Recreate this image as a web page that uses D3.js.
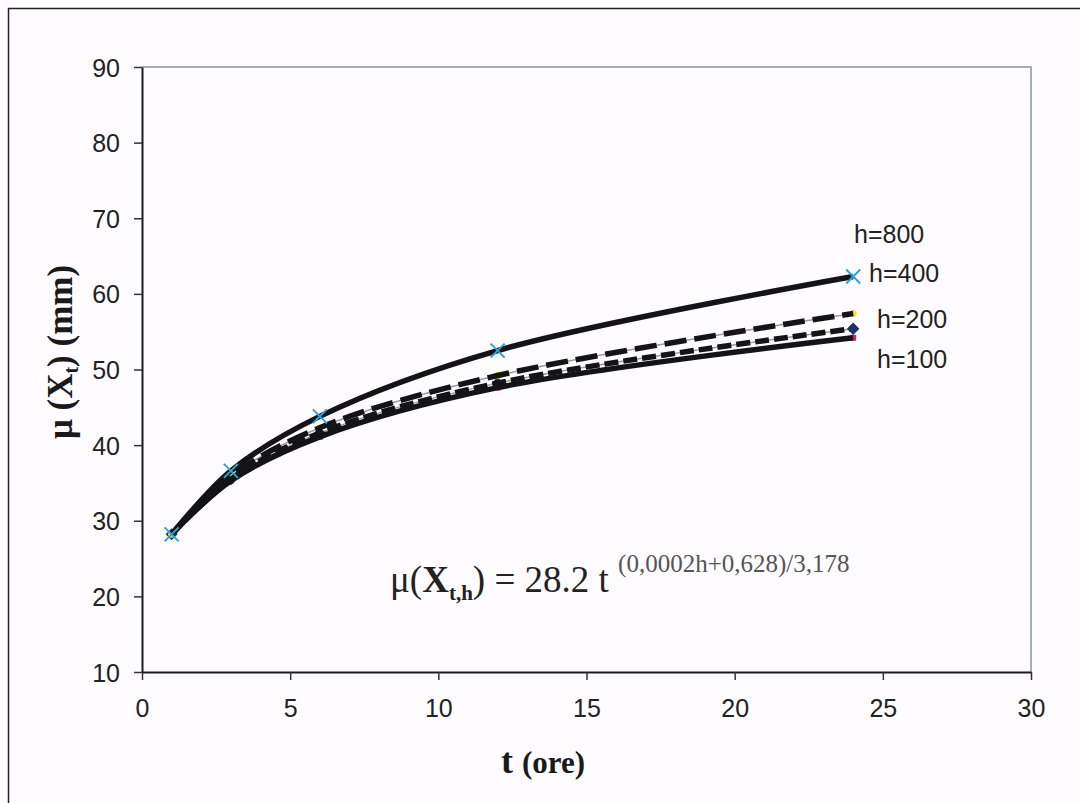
<!DOCTYPE html>
<html>
<head>
<meta charset="utf-8">
<script src="https://cdn.jsdelivr.net/npm/d3@7"></script>
<style>
  body { margin: 0; background: #fefcfe; }
  svg { display: block; }
</style>
</head>
<body>
<div id="chart"></div>
<script>
// data
const times = [1, 3, 6, 12, 24];
const mu800 = [28.2, 36.6, 43.8, 52.5, 62.3];
const mu400 = [28.2, 35.9, 42.3, 49.2, 57.4];
const mu200 = [28.2, 35.5, 41.6, 48.2, 55.4];
const mu100 = [28.2, 35.3, 41.1, 47.6, 54.2];
const seriesNames = ['h=800', 'h=400', 'h=200', 'h=100'];
const xTicks = [0, 5, 10, 15, 20, 25, 30];
const yTicks = [10, 20, 30, 40, 50, 60, 70, 80, 90];

const series = [
  {name: seriesNames[3], values: mu100, dash: null, marker: 'square', color: '#c02a7a'},
  {name: seriesNames[2], values: mu200, dash: '14,5', marker: 'diamond', color: '#1d2f6e'},
  {name: seriesNames[1], values: mu400, dash: '22,8', marker: 'circle', color: '#f2e12a'},
  {name: seriesNames[0], values: mu800, dash: null, marker: 'cross', color: '#2aa6d6'}
];

const width = 1080, height = 803;
const margin = {t: 67, r: 49, b: 131, l: 142};

const svg = d3.select('#chart').append('svg')
  .attr('width', width)
  .attr('height', height);

// outer frame (right and bottom run off the picture)
svg.append('rect')
  .attr('x', 8.5).attr('y', 8.5)
  .attr('width', 1100).attr('height', 900)
  .attr('fill', 'none')
  .attr('stroke', '#222')
  .attr('stroke-width', 1.5);

const x = d3.scaleLinear().domain([0, 30]).range([margin.l, width - margin.r]);
const y = d3.scaleLinear().domain([10, 90]).range([height - margin.b, margin.t]);

// plot border top/right
svg.append('path')
  .attr('d', `M${x(0)},${y(90)}H${x(30)}V${y(10)}`)
  .attr('fill', 'none')
  .attr('stroke', '#8a90a4')
  .attr('stroke-width', 1.5);

// axes
const xAxis = svg.append('g')
  .attr('transform', `translate(0,${y(10)})`)
  .call(d3.axisBottom(x).tickValues(xTicks).tickSize(8).tickSizeOuter(0).tickPadding(19));
const yAxis = svg.append('g')
  .attr('transform', `translate(${x(0)},0)`)
  .call(d3.axisLeft(y).tickValues(yTicks).tickSize(8).tickSizeOuter(0).tickPadding(14));

[xAxis, yAxis].forEach(ax => {
  ax.select('.domain').attr('stroke', '#1a1a22').attr('stroke-width', 2);
  ax.selectAll('.tick line').attr('stroke', '#333').attr('stroke-width', 1.5);
  ax.selectAll('.tick text')
    .attr('fill', '#222')
    .style('font-family', '"Liberation Sans", Arial, sans-serif')
    .style('font-size', '25px');
});
yAxis.selectAll('.tick text').attr('dy', '0.36em');

// lines
const line = d3.line()
  .x((d, i) => x(times[i]))
  .y(d => y(d))
  .curve(d3.curveCatmullRom.alpha(0.5));

const plot = svg.append('g');

// thin grey series lines under the trend strokes
plot.selectAll('.thin')
  .data(series)
  .enter().append('path')
  .attr('d', d => line(d.values))
  .attr('fill', 'none')
  .attr('stroke', '#9a9aa0')
  .attr('stroke-width', 1.5);

// markers hidden mostly under the heavy strokes
const under = series.filter(s => s.marker !== 'cross');
under.forEach(s => {
  const g = plot.append('g');
  s.values.forEach((v, i) => {
    const cx = x(times[i]), cy = y(v);
    if (s.marker === 'circle') {
      g.append('circle').attr('cx', cx).attr('cy', cy).attr('r', 3.5).attr('fill', s.color);
    } else if (s.marker === 'diamond') {
      g.append('path').attr('d', `M${cx},${cy - 6}L${cx + 6},${cy}L${cx},${cy + 6}L${cx - 6},${cy}Z`).attr('fill', s.color);
    } else {
      g.append('rect').attr('x', cx - 3).attr('y', cy - 3).attr('width', 6).attr('height', 6).attr('fill', s.color);
    }
  });
});

plot.selectAll('.heavy')
  .data(series)
  .enter().append('path')
  .attr('d', d => line(d.values))
  .attr('fill', 'none')
  .attr('stroke', '#141418')
  .attr('stroke-width', 5.5)
  .attr('stroke-dasharray', d => d.dash);

// diamond end marker and cyan crosses on top
const s200 = series[1];
plot.append('path')
  .attr('d', () => {
    const cx = x(times[4]), cy = y(s200.values[4]);
    return `M${cx},${cy - 6}L${cx + 6},${cy}L${cx},${cy + 6}L${cx - 6},${cy}Z`;
  })
  .attr('fill', s200.color);

const s800 = series[3];
plot.selectAll('.cross')
  .data(s800.values)
  .enter().append('path')
  .attr('d', (d, i) => {
    const cx = x(times[i]), cy = y(d), r = 7;
    return `M${cx - r},${cy - r}L${cx + r},${cy + r}M${cx - r},${cy + r}L${cx + r},${cy - r}`;
  })
  .attr('stroke', s800.color)
  .attr('stroke-width', 2);

// series labels
const labelPos = [
  {name: 'h=800', x: 854, y: 243},
  {name: 'h=400', x: 869, y: 282},
  {name: 'h=200', x: 877, y: 328},
  {name: 'h=100', x: 877, y: 368}
];
svg.selectAll('.lbl')
  .data(labelPos)
  .enter().append('text')
  .attr('x', d => d.x)
  .attr('y', d => d.y)
  .attr('fill', '#222')
  .style('font-family', '"Liberation Sans", Arial, sans-serif')
  .style('font-size', '25px')
  .text(d => d.name);

// formula
const serif = '"Liberation Serif", "Times New Roman", serif';
const f = svg.append('text')
  .attr('x', 390).attr('y', 592)
  .attr('fill', '#222')
  .style('font-family', serif)
  .style('font-size', '37px');
f.append('tspan').text('μ(');
f.append('tspan').attr('font-weight', 'bold').text('X');
f.append('tspan').attr('font-weight', 'bold').attr('font-size', '21px').attr('dy', 8).text('t,h');
f.append('tspan').attr('dy', -8).text(') = 28.2 t ');
f.append('tspan').attr('font-size', '25px').attr('dy', -20).attr('fill', '#555').text('(0,0002h+0,628)/3,178');

// x axis title
const xt = svg.append('text')
  .attr('x', 543).attr('y', 773)
  .attr('text-anchor', 'middle')
  .attr('fill', '#1a1a1a')
  .attr('font-weight', 'bold')
  .style('font-family', serif);
xt.append('tspan').style('font-size', '36px').text('t ');
xt.append('tspan').style('font-size', '31px').text('(ore)');

// y axis title
const yt = svg.append('text')
  .attr('transform', 'translate(72,352) rotate(-90)')
  .attr('text-anchor', 'middle')
  .attr('fill', '#1a1a1a')
  .attr('font-weight', 'bold')
  .style('font-family', serif)
  .style('font-size', '35px');
yt.append('tspan').text('μ (X');
yt.append('tspan').attr('font-size', '20px').attr('dy', 6).text('t');
yt.append('tspan').attr('dy', -6).text(') (mm)');
</script>
</body>
</html>
